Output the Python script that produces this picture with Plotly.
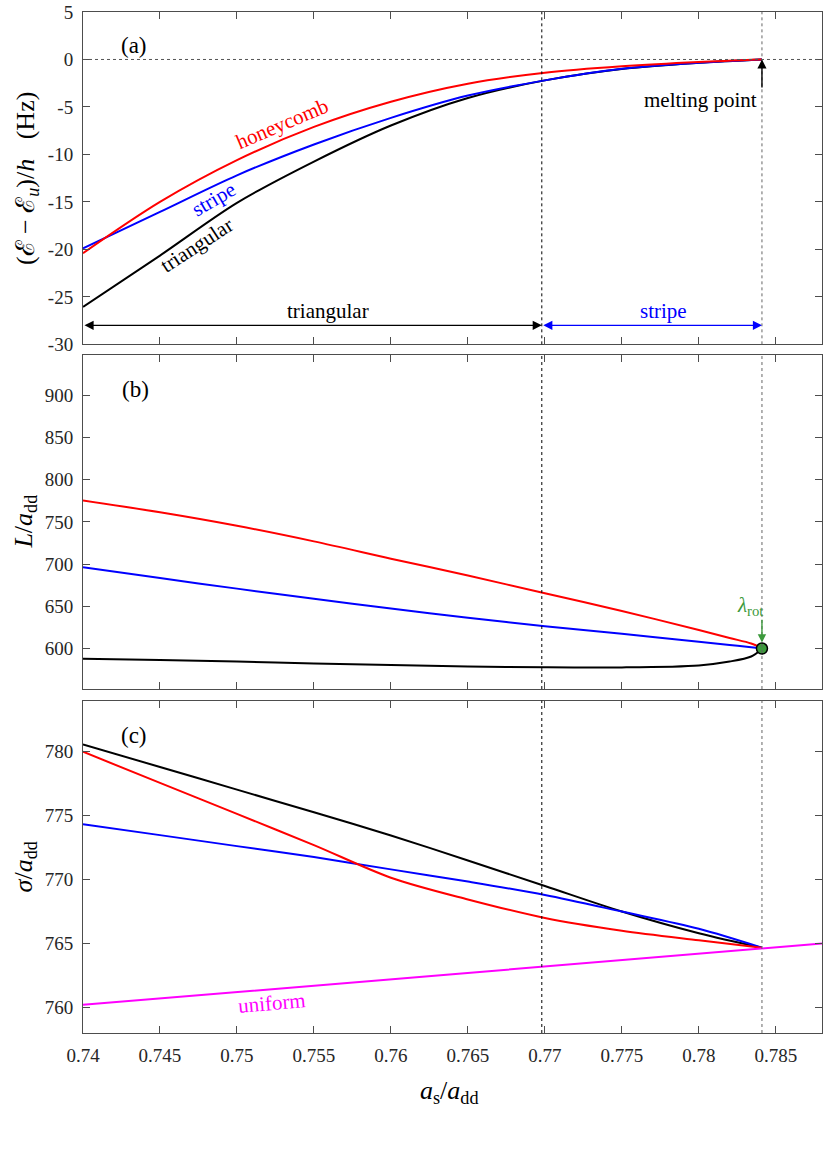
import plotly.graph_objects as go

# phase boundaries (a_s / a_dd)
x_transition = 0.7698
x_melting = 0.7841

# panel (a): (E - E_u)/h in Hz
x_energy = [0.740, 0.745, 0.750, 0.755, 0.760, 0.765, 0.770, 0.775, 0.780, 0.7841]
energy_triangular = [-26.05, -20.65, -15.1, -10.75, -6.95, -4.05, -2.2, -1.0, -0.35, 0.0]
energy_honeycomb = [-20.4, -15.0, -10.6, -7.1, -4.45, -2.55, -1.4, -0.72, -0.26, 0.0]
energy_stripe = [-19.9, -16.05, -12.2, -8.95, -6.15, -3.8, -2.2, -0.98, -0.35, 0.0]

# panel (b): lattice spacing L / a_dd
x_spacing = [0.740, 0.745, 0.750, 0.755, 0.760, 0.765, 0.770, 0.775, 0.780, 0.782, 0.7834, 0.7841]
spacing_honeycomb = [775.5, 761.5, 745.5, 727.0, 706.5, 686.5, 665.5, 644.5, 622.0, 612.5, 606.0, 600.5]
spacing_stripe = [696.4, 683.5, 671.0, 659.0, 647.5, 636.5, 626.4, 617.4, 608.0, 604.2, 601.5, 600.0]
spacing_triangular = [587.8, 586.3, 584.5, 582.3, 580.5, 578.8, 577.7, 577.6, 580.0, 584.6, 590.6, 599.5]
x_roton = [0.7841]
roton_spacing = [600.0]

# panel (c): width sigma / a_dd
x_width = [0.740, 0.745, 0.750, 0.755, 0.760, 0.765, 0.770, 0.775, 0.780, 0.7841]
width_triangular = [780.58, 778.81, 777.04, 775.27, 773.45, 771.5, 769.5, 767.5, 765.8, 764.67]
width_honeycomb = [780.0, 777.57, 775.14, 772.7, 770.15, 768.45, 767.0, 766.0, 765.25, 764.67]
width_stripe = [774.34, 773.48, 772.62, 771.76, 770.8, 769.85, 768.8, 767.5, 766.15, 764.67]
x_uniform = [0.740, 0.764, 0.788]
width_uniform = [760.2, 762.6, 765.0]

# ticks
x_ticks = [0.74, 0.745, 0.75, 0.755, 0.76, 0.765, 0.77, 0.775, 0.78, 0.785]
x_ticktext = ['0.74', '0.745', '0.75', '0.755', '0.76', '0.765', '0.77', '0.775', '0.78', '0.785']
a_ticks = [5, 0, -5, -10, -15, -20, -25, -30]
a_ticktext = ['5', '0', '-5', '-10', '-15', '-20', '-25', '-30']
b_ticks = [600, 650, 700, 750, 800, 850, 900]
c_ticks = [760, 765, 770, 775, 780]

RED = '#FF0000'
BLUE = '#0000FF'
BLACK = '#000000'
MAGENTA = '#FF00FF'
GREEN = '#3C9A3C'
FONT = 'Liberation Serif, DejaVu Serif, serif'


def line(x, y, color, xa, ya):
    return go.Scatter(x=x, y=y, mode='lines', xaxis=xa, yaxis=ya,
                      line=dict(color=color, width=2, shape='spline', smoothing=0.9),
                      showlegend=False, hoverinfo='skip')


fig = go.Figure([
    line(x_energy, energy_triangular, BLACK, 'x', 'y'),
    line(x_energy, energy_stripe, BLUE, 'x', 'y'),
    line(x_energy, energy_honeycomb, RED, 'x', 'y'),
    line(x_spacing, spacing_triangular, BLACK, 'x2', 'y2'),
    line(x_spacing, spacing_stripe, BLUE, 'x2', 'y2'),
    line(x_spacing, spacing_honeycomb, RED, 'x2', 'y2'),
    go.Scatter(x=x_roton, y=roton_spacing, mode='markers', xaxis='x2', yaxis='y2',
               marker=dict(size=11, color=GREEN, line=dict(color=BLACK, width=1.5)),
               showlegend=False, hoverinfo='skip'),
    line(x_width, width_triangular, BLACK, 'x3', 'y3'),
    line(x_width, width_stripe, BLUE, 'x3', 'y3'),
    line(x_width, width_honeycomb, RED, 'x3', 'y3'),
    line(x_uniform, width_uniform, MAGENTA, 'x3', 'y3'),
])

axis_style = dict(showline=True, linecolor='#4d4d4d', linewidth=1, mirror='ticks',
                  ticks='inside', ticklen=7, tickcolor='#4d4d4d', showgrid=False,
                  zeroline=False, tickfont=dict(family=FONT, size=19, color='#262626'),
                  ticklabelstandoff=5, ticklabeloverflow='allow', automargin=False)

fig.update_layout(
    width=830, height=1149,
    margin=dict(l=83, r=8, t=12, b=116, autoexpand=False),
    plot_bgcolor='white', paper_bgcolor='white',
    font=dict(family=FONT, size=19, color='black'),
    xaxis=dict(domain=[0, 1], anchor='y', range=[0.74, 0.788], tickvals=x_ticks,
               showticklabels=False, **axis_style),
    xaxis2=dict(domain=[0, 1], anchor='y2', range=[0.74, 0.788], tickvals=x_ticks,
                showticklabels=False, **axis_style),
    xaxis3=dict(domain=[0, 1], anchor='y3', range=[0.74, 0.788], tickvals=x_ticks,
                ticktext=x_ticktext, **axis_style),
    yaxis=dict(domain=[0.6745, 1.0], anchor='x', range=[-30, 5], tickvals=a_ticks,
               ticktext=a_ticktext, **axis_style),
    yaxis2=dict(domain=[0.3369, 0.6641], anchor='x2', range=[552, 948], tickvals=b_ticks,
                **axis_style),
    yaxis3=dict(domain=[0, 0.3255], anchor='x3', range=[758, 784], tickvals=c_ticks,
                **axis_style),
)

# dotted guide lines
shapes = [dict(type='line', xref='x domain', yref='y', x0=0, x1=1, y0=0, y1=0,
               line=dict(color='#555555', width=1, dash='dot'))]
for xa, ya in [('x', 'y'), ('x2', 'y2'), ('x3', 'y3')]:
    shapes.append(dict(type='line', xref=xa, yref=ya + ' domain', x0=x_transition, x1=x_transition,
                       y0=0, y1=1, line=dict(color='#000000', width=1, dash='dot')))
    shapes.append(dict(type='line', xref=xa, yref=ya + ' domain', x0=x_melting, x1=x_melting,
                       y0=0, y1=1, line=dict(color='#666666', width=1, dash='dot')))
fig.update_layout(shapes=shapes)


def label(text, x, y, xa, ya, color=BLACK, size=21, angle=0):
    fig.add_annotation(text=text, x=x, y=y, xref=xa, yref=ya, showarrow=False,
                       xanchor='center', yanchor='middle', textangle=angle,
                       font=dict(family=FONT, size=size, color=color))


label('(a)', 0.7433, 1.5, 'x', 'y', size=23)
label('(b)', 0.7434, 907, 'x2', 'y2', size=23)
label('(c)', 0.7433, 781.3, 'x3', 'y3', size=23)
label('honeycomb', 0.7529, -6.75, 'x', 'y', RED, angle=-23)
label('stripe', 0.7485, -14.65, 'x', 'y', BLUE, angle=-30)
label('triangular', 0.7474, -19.56, 'x', 'y', BLACK, angle=-33)
label('triangular', 0.7559, -26.5, 'x', 'y', BLACK)
label('stripe', 0.7777, -26.5, 'x', 'y', BLUE)
label('melting point', 0.7801, -4.3, 'x', 'y', BLACK)
label('<i>λ</i><sub>rot</sub>', 0.7833, 651, 'x2', 'y2', GREEN)
label('uniform', 0.7523, 760.35, 'x3', 'y3', MAGENTA, angle=-5)

# arrows
fig.add_annotation(x=x_transition, y=-28, ax=0.74, ay=-28, xref='x', yref='y', axref='x', ayref='y',
                   text='', showarrow=True, arrowside='end+start', arrowhead=2, arrowsize=1.3,
                   arrowwidth=1.4, arrowcolor=BLACK)
fig.add_annotation(x=x_melting, y=-28, ax=x_transition, ay=-28, xref='x', yref='y', axref='x', ayref='y',
                   text='', showarrow=True, arrowside='end+start', arrowhead=2, arrowsize=1.3,
                   arrowwidth=1.4, arrowcolor=BLUE)
fig.add_annotation(x=x_melting, y=0, ax=x_melting, ay=-3.1, xref='x', yref='y', axref='x', ayref='y',
                   text='', showarrow=True, arrowhead=2, arrowsize=1.3, arrowwidth=1.4,
                   arrowcolor=BLACK)
fig.add_annotation(x=x_melting, y=607, ax=x_melting, ay=636, xref='x2', yref='y2', axref='x2', ayref='y2',
                   text='', showarrow=True, arrowhead=2, arrowsize=1.2, arrowwidth=1.4,
                   arrowcolor=GREEN)

# axis titles
titles = [
    ('(ℰ − ℰ<sub><i>u</i></sub>)/<i>h</i>\u00a0\u00a0\u00a0(Hz)', -0.0758, 0.8373, -90),
    ('<i>L</i>/<i>a</i><sub>dd</sub>', -0.079, 0.5005, -90),
    ('<i>σ</i>/<i>a</i><sub>dd</sub>', -0.079, 0.1628, -90),
    ('<i>a</i><sub>s</sub>/<i>a</i><sub>dd</sub>', 0.4966, -0.0575, 0),
]
for text, x, y, angle in titles:
    fig.add_annotation(text=text, xref='paper', yref='paper', x=x, y=y, textangle=angle,
                       xanchor='center', yanchor='middle', showarrow=False,
                       font=dict(family=FONT, size=26, color='black'))

# drop the default 8px page margin so the figure fills the window exactly
fig.write_html('out.html', config={'displayModeBar': False},
               post_script="document.body.style.margin = '0';")
